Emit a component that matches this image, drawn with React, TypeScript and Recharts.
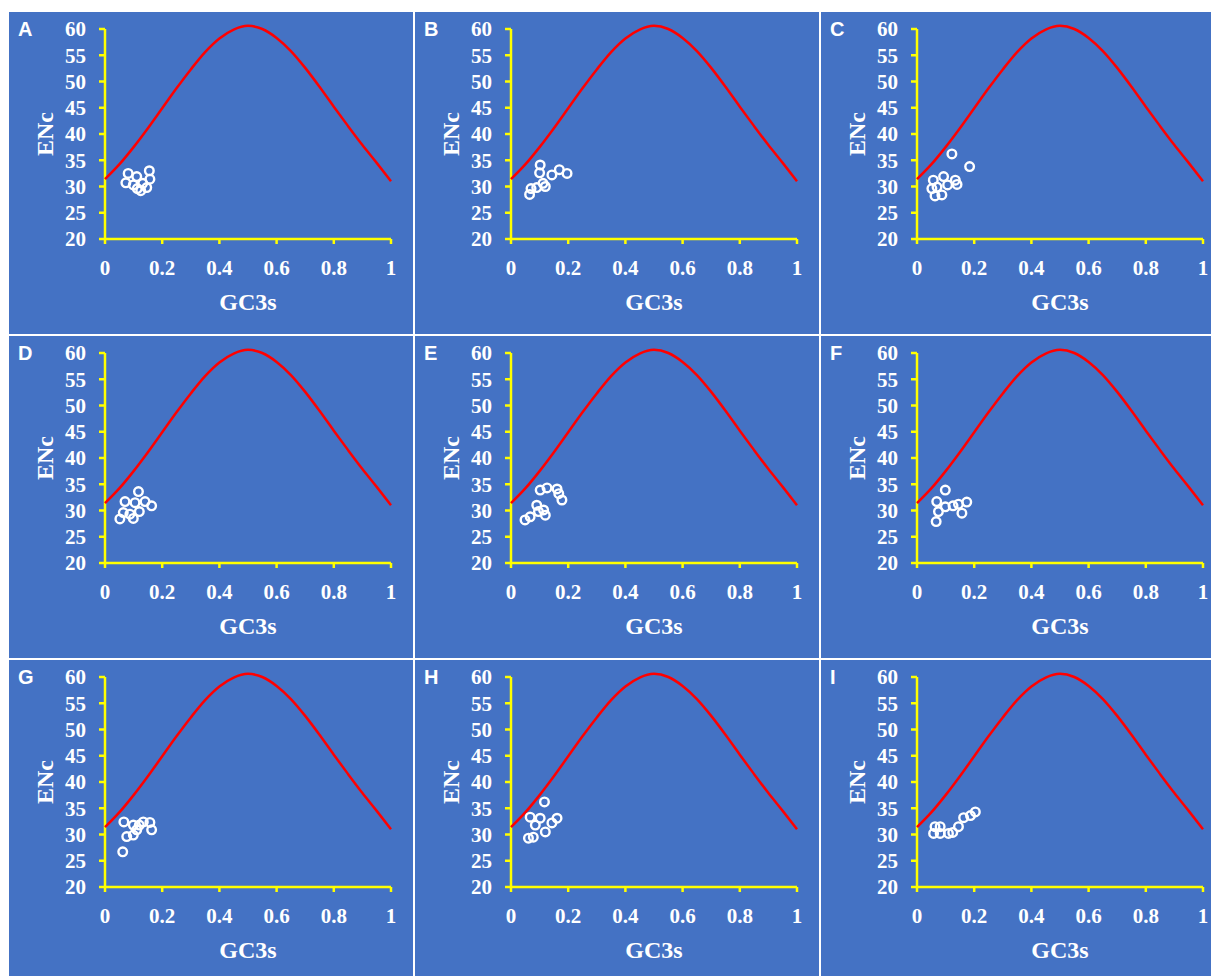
import { ComposedChart, Line, Scatter, XAxis, YAxis, ReferenceLine } from 'recharts';

// expected ENc curve, GC3s from 0 to 1
const curveGc3s = [0, 0.05, 0.1, 0.15, 0.2, 0.25, 0.3, 0.35, 0.4, 0.45, 0.5, 0.55, 0.6, 0.65, 0.7, 0.75, 0.8, 0.85, 0.9, 0.95, 1];
const curveEnc = [31.4, 34.2, 37.5, 41.1, 44.9, 48.7, 52.3, 55.6, 58.2, 59.9, 60.6, 60.0, 58.3, 55.8, 52.6, 49.0, 45.2, 41.5, 37.9, 34.5, 31.0];

const xTicks = [0, 0.2, 0.4, 0.6, 0.8, 1];
const yTicks = [20, 25, 30, 35, 40, 45, 50, 55, 60];

const panelLetters = ['A', 'B', 'C', 'D', 'E', 'F', 'G', 'H', 'I'];

// [GC3s, ENc] per gene
const genesA = [[0.081, 32.5], [0.111, 31.9], [0.155, 33.0], [0.157, 31.4], [0.073, 30.7], [0.099, 30.3], [0.132, 30.6], [0.125, 29.2], [0.146, 29.8], [0.113, 29.6]];
const genesB = [[0.102, 34.1], [0.1, 32.6], [0.143, 32.2], [0.169, 33.2], [0.196, 32.5], [0.12, 30.0], [0.09, 29.8], [0.07, 29.6], [0.065, 28.5], [0.112, 30.6]];
const genesC = [[0.122, 36.2], [0.184, 33.8], [0.057, 31.2], [0.093, 31.9], [0.107, 30.3], [0.134, 31.2], [0.14, 30.4], [0.052, 29.6], [0.07, 29.9], [0.063, 28.2], [0.087, 28.4]];
const genesD = [[0.117, 33.6], [0.07, 31.7], [0.105, 31.5], [0.14, 31.7], [0.163, 30.9], [0.064, 29.6], [0.087, 29.3], [0.12, 29.8], [0.052, 28.4], [0.099, 28.5]];
const genesE = [[0.102, 33.9], [0.126, 34.3], [0.161, 34.1], [0.167, 33.2], [0.178, 32.0], [0.09, 31.0], [0.114, 30.1], [0.12, 29.1], [0.096, 29.8], [0.067, 28.8], [0.049, 28.2]];
const genesF = [[0.099, 33.9], [0.069, 31.7], [0.075, 29.8], [0.067, 27.9], [0.099, 30.7], [0.126, 30.9], [0.145, 31.2], [0.174, 31.6], [0.157, 29.5]];
const genesG = [[0.066, 32.4], [0.099, 31.8], [0.134, 32.4], [0.157, 32.3], [0.163, 30.9], [0.111, 30.9], [0.12, 31.8], [0.076, 29.6], [0.099, 29.9], [0.062, 26.7]];
const genesH = [[0.117, 36.2], [0.067, 33.3], [0.102, 33.1], [0.161, 33.1], [0.143, 32.2], [0.085, 31.8], [0.12, 30.5], [0.061, 29.3], [0.078, 29.5]];
const genesI = [[0.204, 34.3], [0.187, 33.6], [0.163, 33.2], [0.145, 31.5], [0.11, 30.2], [0.063, 31.5], [0.081, 31.5], [0.058, 30.2], [0.081, 30.2], [0.125, 30.4]];

const panelGenes = [genesA, genesB, genesC, genesD, genesE, genesF, genesG, genesH, genesI];

const curveData = curveGc3s.map((s, i) => ({ s, enc: curveEnc[i] }));

const YELLOW = '#FFFF00';
const PANEL_W = 404;
const PANEL_H = 322;
const colLeft = [9, 415, 821];
const rowTop = [12, 336, 660];

const tickFont = { fill: '#fff', fontSize: 21, fontWeight: 700, fontFamily: '"Liberation Serif", "Times New Roman", serif' };

const Ring = (props: any) => (
    <circle cx={props.cx} cy={props.cy} r={4.3} fill="none" stroke="#fff" strokeWidth={2.4} />
);

function EncPanel({ letter, genes }: { letter: string; genes: number[][] }) {
    const points = genes.map(([s, enc]) => ({ s, enc }));
    return (
        <div style={{ position: 'relative', width: PANEL_W, height: PANEL_H, background: '#4472C4', overflow: 'hidden' }}>
            <ComposedChart width={PANEL_W} height={PANEL_H} data={curveData} margin={{ top: 6.5, right: 22, bottom: 25, left: 0 }}>
                <XAxis
                    type="number"
                    dataKey="s"
                    domain={[0, 1]}
                    ticks={xTicks}
                    height={70}
                    axisLine={{ stroke: YELLOW, strokeWidth: 2.5 }}
                    tickLine={{ stroke: YELLOW, strokeWidth: 2.5 }}
                    tickSize={5}
                    tickMargin={16}
                    tick={tickFont}
                    interval={0}
                    label={{ value: 'GC3s', position: 'insideBottom', offset: -1, fill: '#fff', fontSize: 24, fontWeight: 700, fontFamily: '"Liberation Serif", serif' }}
                />
                <YAxis
                    type="number"
                    dataKey="enc"
                    domain={[20, 62]}
                    ticks={yTicks}
                    width={96}
                    axisLine={false}
                    tickLine={{ stroke: YELLOW, strokeWidth: 2.5 }}
                    tickSize={6}
                    tickMargin={13}
                    tick={tickFont}
                    interval={0}
                />
                <ReferenceLine segment={[{ x: 0, y: 20 }, { x: 0, y: 60 }]} stroke={YELLOW} strokeWidth={2.5} />
                <Line type="monotone" dataKey="enc" stroke="#FF0000" strokeWidth={2.5} dot={false} isAnimationActive={false} />
                <Scatter data={points} dataKey="enc" shape={Ring} isAnimationActive={false} />
            </ComposedChart>
            <div style={{ position: 'absolute', left: 9, top: 6, color: '#fff', fontFamily: '"Liberation Sans", Arial, sans-serif', fontWeight: 700, fontSize: 20 }}>
                {letter}
            </div>
            <div
                style={{
                    position: 'absolute', left: 36, top: 122, transform: 'translate(-50%, -50%) rotate(-90deg)',
                    color: '#fff', fontFamily: '"Liberation Serif", serif', fontWeight: 700, fontSize: 24, whiteSpace: 'nowrap',
                }}
            >
                ENc
            </div>
        </div>
    );
}

export default function App() {
    return (
        <div style={{ position: 'absolute', left: 0, top: 0, width: 1211, height: 976, background: '#fff', overflow: 'hidden' }}>
            {panelLetters.map((letter, i) => (
                <div key={letter} style={{ position: 'absolute', left: colLeft[i % 3], top: rowTop[Math.floor(i / 3)] }}>
                    <EncPanel letter={letter} genes={panelGenes[i]} />
                </div>
            ))}
        </div>
    );
}
